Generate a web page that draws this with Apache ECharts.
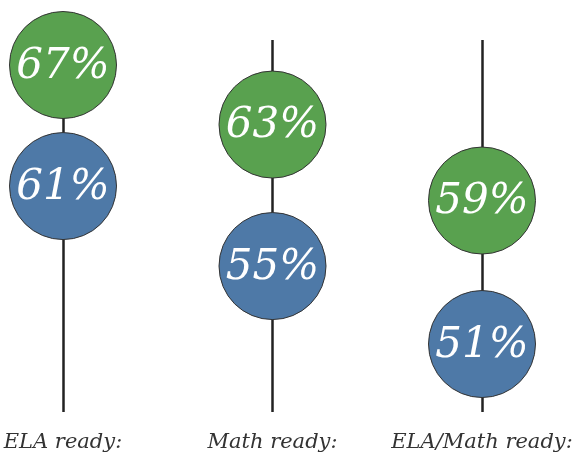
<!DOCTYPE html>
<html>
<head>
<meta charset="utf-8">
<script src="https://cdn.jsdelivr.net/npm/echarts@6/dist/echarts.min.js"></script>
<style>html,body{margin:0;padding:0;background:#fff;}#c{width:579px;height:464px;}</style>
</head>
<body>
<div id="c"></div>
<script>
const categories = ['ELA ready:', 'Math ready:', 'ELA/Math ready:'];
const greenValues = [67, 63, 59];
const blueValues = [61, 55, 51];

const GREEN = '#59a14f';
const BLUE = '#4e79a7';
const axisRanges = [[49.8, 68.24], [46.75, 67.78], [47.21, 67.95]];

const chart = echarts.init(document.getElementById('c'));
const yAxes = axisRanges.map(r => ({ type: 'value', min: r[0], max: r[1], show: false }));
const series = [];
categories.forEach((cat, i) => {
  [[greenValues[i], GREEN], [blueValues[i], BLUE]].forEach(([v, col]) => {
    series.push({
      type: 'scatter',
      yAxisIndex: i,
      clip: false,
      symbolSize: 107,
      itemStyle: { color: col, borderColor: '#333', borderWidth: 1, opacity: 1 },
      label: {
        show: true, position: 'inside', offset: [0, 2],
        formatter: p => p.value[1] + '%',
        color: '#fff', fontFamily: 'DejaVu Serif', fontStyle: 'italic', fontSize: 42
      },
      emphasis: { disabled: true },
      data: [[cat, v]]
    });
  });
});

chart.setOption({
  animation: false,
  grid: { left: 63, right: 97, top: 40, bottom: 52 },
  xAxis: {
    type: 'category', data: categories, boundaryGap: false,
    axisLine: { show: false }, axisTick: { show: false },
    splitLine: { show: true, interval: 0, lineStyle: { color: '#222', width: 2.5 } },
    axisLabel: { interval: 0, margin: 20, color: '#333', fontFamily: 'DejaVu Serif', fontStyle: 'italic', fontSize: 21 }
  },
  yAxis: yAxes,
  series: series
});
</script>
</body>
</html>
